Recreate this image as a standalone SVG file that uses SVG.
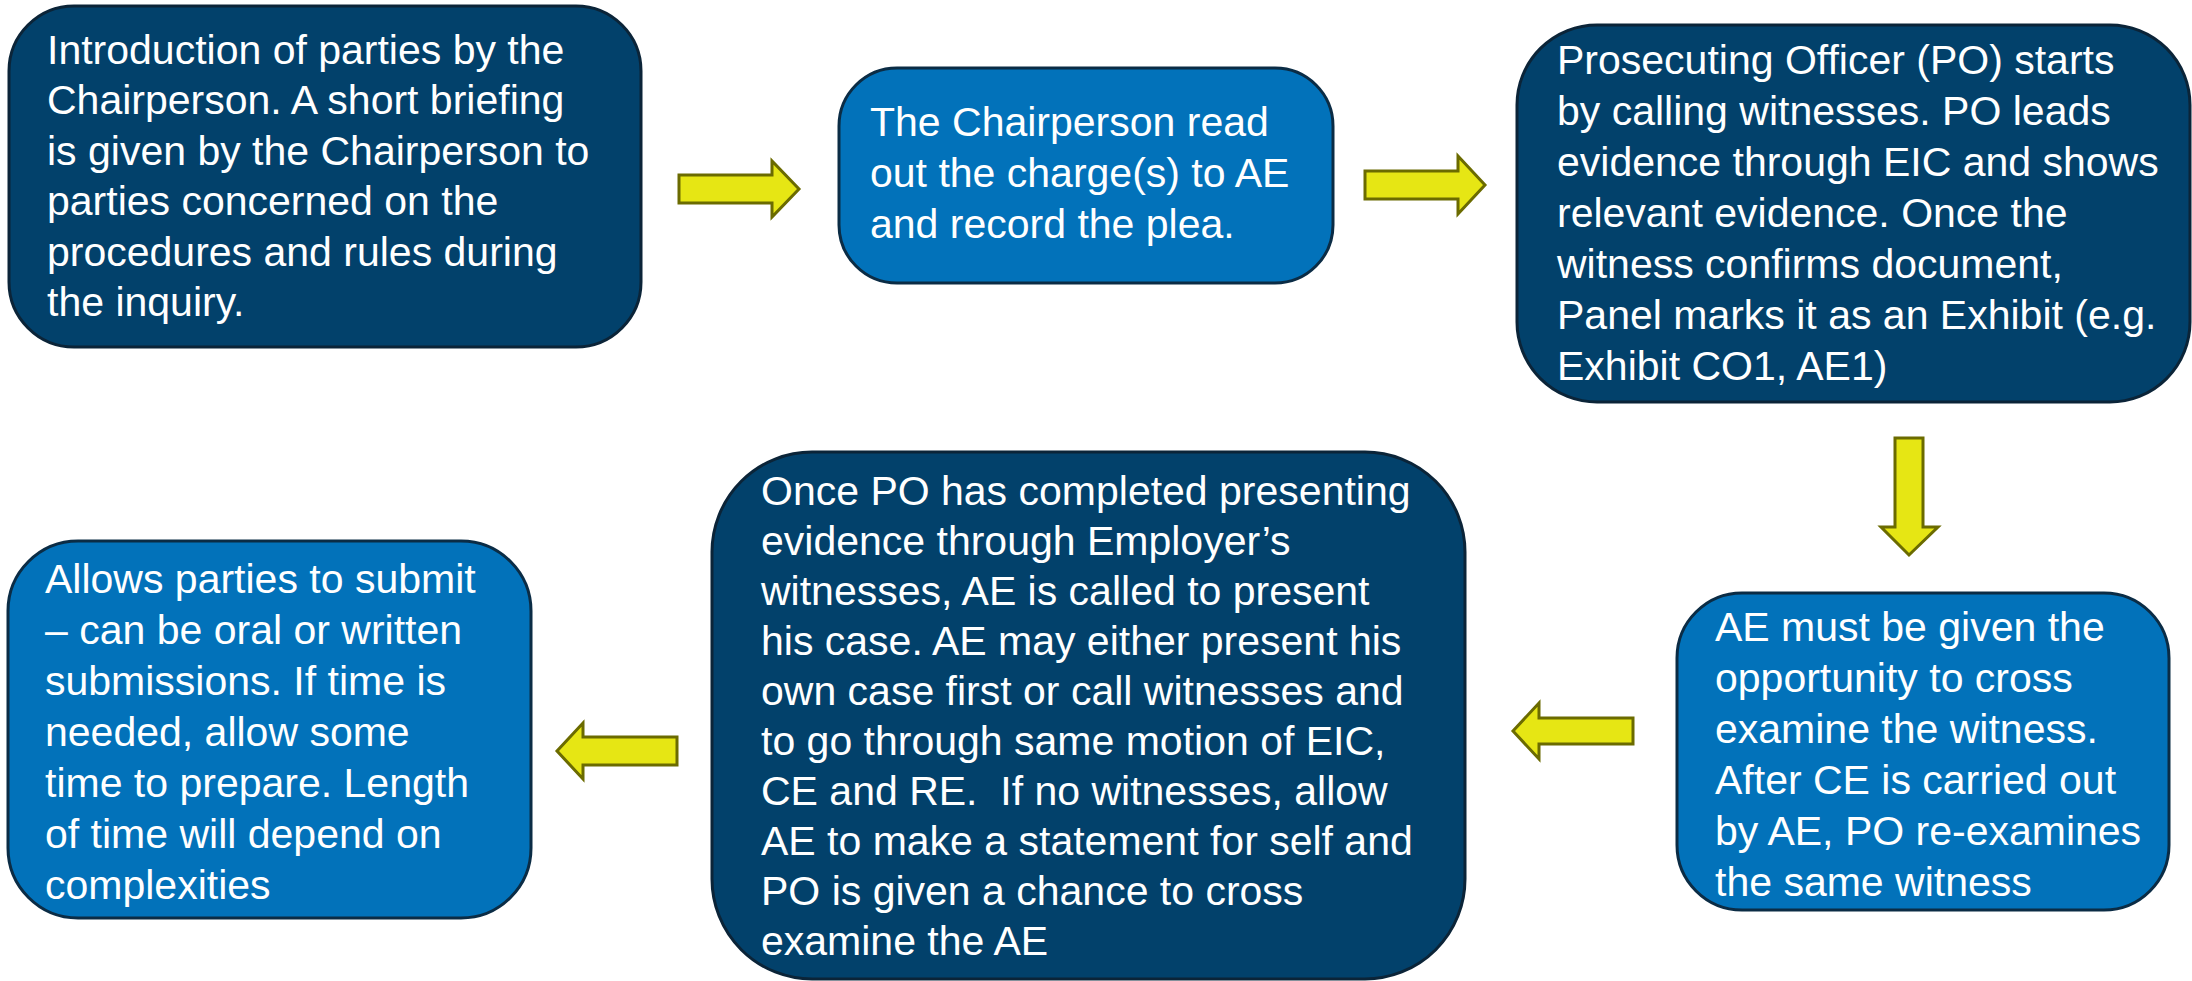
<svg xmlns="http://www.w3.org/2000/svg" width="2192" height="981" viewBox="0 0 2192 981">
  <style>
    .dark { fill: #02416B; stroke: #0B2438; stroke-width: 3; }
    .mid { fill: #0272BA; stroke: #0B2C45; stroke-width: 3; }
    .arrow { fill: #E6E614; stroke: #6B6B00; stroke-width: 3; stroke-linejoin: miter; }
    text { font-family: "Liberation Sans", Arial, sans-serif; font-size: 41px; fill: #FFFFFF; }
  </style>
  <rect width="2192" height="981" fill="#FFFFFF"/>

  <!-- flow arrows between steps -->
  <g id="connectors">
    <polygon class="arrow" points="679,175 772,175 772,161 799,189 772,217 772,203 679,203"/>
    <polygon class="arrow" points="1365,171 1458,171 1458,156 1485,185 1458,214 1458,199 1365,199"/>
    <polygon class="arrow" points="1895,438 1923,438 1923,527 1938,527 1909,555 1881,527 1895,527"/>
    <polygon class="arrow" points="1633,718 1539,718 1539,703 1513,731 1539,759 1539,744 1633,744"/>
    <polygon class="arrow" points="677,737 583,737 583,723 557,751 583,779 583,765 677,765"/>
  </g>

  <!-- step 1 -->
  <g id="step-introduction">
    <rect class="dark" x="9" y="6" width="632" height="341" rx="65" ry="65"/>
    <text x="47" y="64">Introduction of parties by the</text>
    <text x="47" y="114">Chairperson. A short briefing</text>
    <text x="47" y="165">is given by the Chairperson to</text>
    <text x="47" y="215">parties concerned on the</text>
    <text x="47" y="266">procedures and rules during</text>
    <text x="47" y="316">the inquiry.</text>
  </g>

  <!-- step 2 -->
  <g id="step-charge">
    <rect class="mid" x="839" y="68" width="494" height="215" rx="58" ry="58"/>
    <text x="870" y="136">The Chairperson read</text>
    <text x="870" y="187">out the charge(s) to AE</text>
    <text x="870" y="238">and record the plea.</text>
  </g>

  <!-- step 3 -->
  <g id="step-prosecution">
    <rect class="dark" x="1517" y="25" width="673" height="377" rx="80" ry="80"/>
    <text x="1557" y="74">Prosecuting Officer (PO) starts</text>
    <text x="1557" y="125">by calling witnesses. PO leads</text>
    <text x="1557" y="176">evidence through EIC and shows</text>
    <text x="1557" y="227">relevant evidence. Once the</text>
    <text x="1557" y="278">witness confirms document,</text>
    <text x="1557" y="329">Panel marks it as an Exhibit (e.g.</text>
    <text x="1557" y="380">Exhibit CO1, AE1)</text>
  </g>

  <!-- step 4 -->
  <g id="step-cross-examination">
    <rect class="mid" x="1677" y="593" width="492" height="317" rx="65" ry="65"/>
    <text x="1715" y="641">AE must be given the</text>
    <text x="1715" y="692">opportunity to cross</text>
    <text x="1715" y="743">examine the witness.</text>
    <text x="1715" y="794">After CE is carried out</text>
    <text x="1715" y="845">by AE, PO re-examines</text>
    <text x="1715" y="896">the same witness</text>
  </g>

  <!-- step 5 -->
  <g id="step-defence">
    <rect class="dark" x="712" y="452" width="753" height="527" rx="100" ry="100"/>
    <text x="761" y="505">Once PO has completed presenting</text>
    <text x="761" y="555">evidence through Employer’s</text>
    <text x="761" y="605">witnesses, AE is called to present</text>
    <text x="761" y="655">his case. AE may either present his</text>
    <text x="761" y="705">own case first or call witnesses and</text>
    <text x="761" y="755">to go through same motion of EIC,</text>
    <text x="761" y="805" xml:space="preserve">CE and RE.  If no witnesses, allow</text>
    <text x="761" y="855">AE to make a statement for self and</text>
    <text x="761" y="905">PO is given a chance to cross</text>
    <text x="761" y="955">examine the AE</text>
  </g>

  <!-- step 6 -->
  <g id="step-submissions">
    <rect class="mid" x="8" y="541" width="523" height="377" rx="70" ry="70"/>
    <text x="45" y="593">Allows parties to submit</text>
    <text x="45" y="644">– can be oral or written</text>
    <text x="45" y="695">submissions. If time is</text>
    <text x="45" y="746">needed, allow some</text>
    <text x="45" y="797">time to prepare. Length</text>
    <text x="45" y="848">of time will depend on</text>
    <text x="45" y="899">complexities</text>
  </g>
</svg>
